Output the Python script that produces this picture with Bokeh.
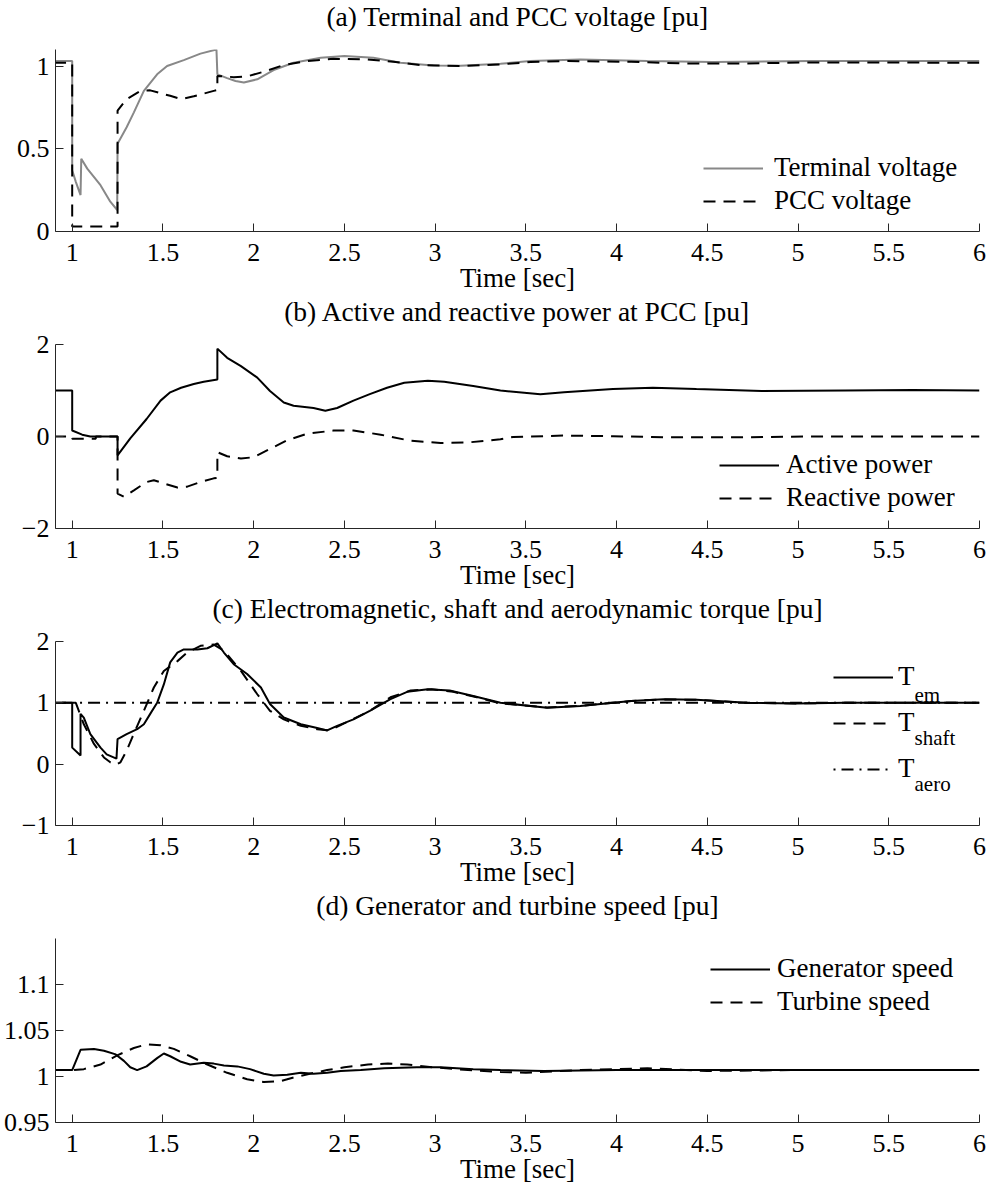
from bokeh.plotting import figure
from bokeh.layouts import column
from bokeh.models import Range1d, FixedTicker, Legend, LegendItem, Label, Title
from bokeh.embed import file_html
from bokeh.resources import INLINE

# ---------------- data ----------------
x_ticks = [1, 1.5, 2, 2.5, 3, 3.5, 4, 4.5, 5, 5.5, 6]
x_tick_labels = ["1", "1.5", "2", "2.5", "3", "3.5", "4", "4.5", "5", "5.5", "6"]

# (a) Terminal and PCC voltage
t_term = [0.9, 1.0, 1.0, 1.02, 1.046, 1.05, 1.083, 1.156, 1.21, 1.248, 1.25, 1.30, 1.34, 1.395,
          1.468, 1.523, 1.615, 1.707, 1.795, 1.8, 1.854, 1.90, 1.946, 2.02, 2.11, 2.22, 2.37,
          2.5, 2.66, 2.81, 2.99, 3.14, 3.36, 3.525, 3.80, 4.17, 4.53, 5.08, 6.0]
v_term = [1.03, 1.03, 0.37, 0.30, 0.22, 0.44, 0.38, 0.28, 0.18, 0.13, 0.53, 0.63, 0.72, 0.85,
          0.95, 1.0, 1.036, 1.075, 1.10, 0.95, 0.927, 0.91, 0.90, 0.92, 0.976, 1.02, 1.05,
          1.06, 1.05, 1.02, 1.004, 1.002, 1.014, 1.03, 1.04, 1.03, 1.024, 1.03, 1.03]
t_pcc = [0.9, 1.0, 1.0, 1.25, 1.25, 1.30, 1.377, 1.43, 1.54, 1.60, 1.67, 1.78, 1.8, 1.8, 1.89,
         1.96, 2.056, 2.166, 2.295, 2.44, 2.625, 2.77, 2.92, 3.14, 3.36, 3.525, 3.71, 4.08,
         4.35, 4.72, 5.08, 6.0]
v_pcc = [1.02, 1.02, 0.03, 0.03, 0.73, 0.80, 0.85, 0.853, 0.82, 0.80, 0.817, 0.85, 0.855, 0.94,
         0.933, 0.936, 0.966, 1.006, 1.03, 1.044, 1.04, 1.026, 1.006, 1.0, 1.01, 1.024, 1.03,
         1.026, 1.016, 1.016, 1.022, 1.02]

# (b) Active and reactive power at PCC
t_p = [0.9, 1.0, 1.0, 1.055, 1.1, 1.25, 1.25, 1.32, 1.41, 1.487, 1.54, 1.60, 1.67, 1.725, 1.8,
       1.8, 1.854, 1.93, 2.02, 2.09, 2.166, 2.22, 2.33, 2.395, 2.46, 2.55, 2.64, 2.735, 2.83,
       2.96, 3.05, 3.21, 3.36, 3.58, 3.71, 3.98, 4.20, 4.44, 4.80, 5.26, 5.63, 6.0]
v_p = [1.0, 1.0, 0.13, 0.04, 0.0, 0.0, -0.41, -0.04, 0.38, 0.78, 0.96, 1.06, 1.14, 1.19, 1.24,
       1.91, 1.71, 1.53, 1.28, 0.99, 0.74, 0.67, 0.62, 0.56, 0.62, 0.78, 0.92, 1.06, 1.17,
       1.21, 1.19, 1.10, 1.0, 0.92, 0.96, 1.03, 1.06, 1.03, 0.99, 1.0, 1.01, 1.0]
t_q = [0.9, 1.0, 1.0, 1.13, 1.13, 1.25, 1.25, 1.285, 1.34, 1.41, 1.45, 1.505, 1.58, 1.634,
       1.707, 1.78, 1.8, 1.8, 1.854, 1.93, 2.0, 2.09, 2.18, 2.295, 2.44, 2.55, 2.70, 2.86,
       3.03, 3.18, 3.36, 3.43, 3.71, 3.98, 4.26, 4.72, 5.08, 6.0]
v_q = [0.0, 0.0, -0.05, -0.05, 0.0, 0.0, -1.24, -1.31, -1.17, -0.99, -0.95, -1.02, -1.11, -1.09,
       -0.99, -0.91, -0.90, -0.34, -0.43, -0.48, -0.45, -0.27, -0.09, 0.06, 0.13, 0.13, 0.04,
       -0.09, -0.14, -0.13, -0.06, -0.01, 0.02, 0.007, -0.015, -0.015, 0.0, 0.0]

# (c) Electromagnetic, shaft and aerodynamic torque
t_em = [0.9, 1.0, 1.0, 1.046, 1.046, 1.064, 1.10, 1.156, 1.19, 1.244, 1.25, 1.30, 1.358, 1.395,
        1.43, 1.468, 1.505, 1.54, 1.58, 1.615, 1.69, 1.745, 1.80, 1.836, 1.89, 1.964, 2.04,
        2.09, 2.166, 2.26, 2.35, 2.405, 2.46, 2.55, 2.64, 2.754, 2.846, 2.96, 3.08, 3.21,
        3.36, 3.617, 3.80, 4.08, 4.26, 4.44, 4.72, 4.99, 5.26, 6.0]
v_em = [1.0, 1.0, 0.27, 0.14, 0.82, 0.76, 0.49, 0.27, 0.16, 0.09, 0.41, 0.49, 0.57, 0.65,
        0.82, 1.0, 1.30, 1.66, 1.82, 1.87, 1.87, 1.89, 1.97, 1.82, 1.63, 1.47, 1.25, 0.98,
        0.76, 0.65, 0.59, 0.55, 0.625, 0.73, 0.87, 1.06, 1.18, 1.22, 1.20, 1.11, 1.0, 0.92,
        0.95, 1.03, 1.06, 1.05, 1.0, 0.99, 1.0, 1.0]
t_sh = [0.9, 1.02, 1.064, 1.12, 1.175, 1.21, 1.24, 1.266, 1.30, 1.33, 1.395, 1.45, 1.505, 1.58,
        1.634, 1.707, 1.78, 1.836, 1.93, 2.02, 2.09, 2.166, 2.26, 2.35, 2.42, 2.51, 2.64,
        2.754, 2.865, 2.98, 3.10, 3.23, 3.36, 3.617, 3.80, 4.08, 4.26, 4.44, 4.72, 4.99,
        5.26, 6.0]
v_sh = [1.0, 1.0, 0.65, 0.33, 0.11, 0.03, -0.01, 0.03, 0.22, 0.43, 0.87, 1.25, 1.52, 1.68,
        1.82, 1.93, 1.95, 1.85, 1.52, 1.14, 0.87, 0.73, 0.625, 0.57, 0.55, 0.68, 0.87, 1.09,
        1.20, 1.22, 1.18, 1.09, 0.99, 0.925, 0.95, 1.03, 1.055, 1.05, 1.0, 0.99, 1.0, 1.0]
t_aero = [0.9, 6.0]
v_aero = [1.0, 1.0]

# (d) Generator and turbine speed
t_gen = [0.9, 1.0, 1.046, 1.12, 1.175, 1.24, 1.285, 1.32, 1.358, 1.41, 1.468, 1.505, 1.54, 1.60,
         1.65, 1.725, 1.78, 1.836, 1.91, 1.98, 2.056, 2.11, 2.185, 2.26, 2.33, 2.405, 2.48,
         2.59, 2.72, 2.90, 3.03, 3.21, 3.36, 3.6, 4.0, 6.0]
v_gen = [1.007, 1.007, 1.029, 1.030, 1.028, 1.024, 1.017, 1.010, 1.007, 1.011, 1.020, 1.025,
         1.022, 1.016, 1.013, 1.015, 1.014, 1.012, 1.011, 1.008, 1.003, 1.001, 1.002, 1.004,
         1.003, 1.004, 1.006, 1.007, 1.009, 1.010, 1.010, 1.008, 1.007, 1.006, 1.007, 1.007]
t_tur = [0.9, 1.0, 1.064, 1.156, 1.248, 1.34, 1.41, 1.487, 1.56, 1.65, 1.745, 1.854, 1.964,
         2.056, 2.148, 2.22, 2.31, 2.405, 2.50, 2.63, 2.74, 2.846, 2.99, 3.18, 3.36, 3.5, 3.8,
         4.17, 4.5, 5.0, 6.0]
v_tur = [1.007, 1.007, 1.008, 1.013, 1.023, 1.031, 1.035, 1.034, 1.030, 1.022, 1.013, 1.004,
         0.997, 0.994, 0.995, 0.999, 1.003, 1.007, 1.010, 1.013, 1.014, 1.013, 1.010, 1.007,
         1.005, 1.004, 1.007, 1.009, 1.006, 1.007, 1.007]

# ---------------- styling ----------------
FONT = "Liberation Serif"
AXC = "#262626"
W = 994
BL, BR = 55, 15
DASH = "12 8"
DASHDOT = "2 6 12 6"


def make_fig(title, height, yr, yticks, ylabels, top, bottom):
    p = figure(width=W, height=height, output_backend="svg", toolbar_location=None,
               x_range=Range1d(0.908, 6.0), y_range=Range1d(*yr),
               min_border_left=BL, min_border_right=BR,
               min_border_top=top, min_border_bottom=bottom)
    # thin empty band between the frame and the title
    p.add_layout(Title(text=" ", text_font_size="12px", standoff=0), "above")
    p.title.text = title
    p.title.align = "center"
    p.title.vertical_align = "top"
    p.title.standoff = 0
    p.title.text_font = FONT
    p.title.text_font_size = "27.5px"
    p.title.text_font_style = "normal"
    p.title.text_color = "black"
    p.grid.visible = False
    p.outline_line_color = None
    p.background_fill_color = "white"
    p.border_fill_color = "white"
    p.xaxis.ticker = FixedTicker(ticks=x_ticks)
    p.xaxis.major_label_overrides = {float(k): v for k, v in zip(x_ticks, x_tick_labels)}
    p.yaxis.ticker = FixedTicker(ticks=yticks)
    p.yaxis.major_label_overrides = {float(k): v for k, v in zip(yticks, ylabels)}
    p.xaxis.axis_label = "Time [sec]"
    p.xaxis.axis_label_text_font = FONT
    p.xaxis.axis_label_text_font_size = "27px"
    p.xaxis.axis_label_text_font_style = "normal"
    p.xaxis.axis_label_text_color = "black"
    p.xaxis.axis_label_standoff = -1
    p.xaxis.major_label_standoff = 12
    p.yaxis.major_label_standoff = 6
    for ax in (p.xaxis[0], p.yaxis[0]):
        ax.major_tick_in = 8
        ax.major_tick_out = 0
        ax.minor_tick_in = 0
        ax.minor_tick_out = 0
        ax.axis_line_color = AXC
        ax.major_tick_line_color = AXC
        ax.major_label_text_font = FONT
        ax.major_label_text_font_size = "26px"
        ax.major_label_text_color = "black"
    return p


def make_legend(items, loc, spacing, standoff):
    return Legend(items=items, location=loc, label_text_font=FONT,
                  label_text_font_size="27px", label_text_color="black",
                  glyph_width=60, glyph_height=20, label_standoff=standoff,
                  spacing=spacing, padding=0, margin=0, border_line_color=None,
                  background_fill_alpha=0)


# (a)
pa = make_fig("(a) Terminal and PCC voltage [pu]", 295, (0, 1.1), [0, 0.5, 1],
              ["0", "0.5", "1"], 47, 64)
ra1 = pa.line(t_term, v_term, line_color="#888888", line_width=2)
ra2 = pa.line(t_pcc, v_pcc, line_color="black", line_width=2, line_dash=DASH)
pa.add_layout(make_legend([LegendItem(label="Terminal voltage", renderers=[ra1]),
                           LegendItem(label="PCC voltage", renderers=[ra2])],
                          (648, 15), 2, 11))

# (b)
pb = make_fig("(b) Active and reactive power at PCC [pu]", 297, (-2, 2), [-2, 0, 2],
              ["\u22122", "0", "2"], 48, 64)
rb1 = pb.line(t_p, v_p, line_color="black", line_width=2)
rb2 = pb.line(t_q, v_q, line_color="black", line_width=2, line_dash=DASH)
pb.add_layout(make_legend([LegendItem(label="Active power", renderers=[rb1]),
                           LegendItem(label="Reactive power", renderers=[rb2])],
                          (664, 15), 2, 7))

# (c)
pc = make_fig("(c) Electromagnetic, shaft and aerodynamic torque [pu]", 297, (-1, 2),
              [-1, 0, 1, 2], ["\u22121", "0", "1", "2"], 49, 64)
rc3 = pc.line(t_aero, v_aero, line_color="black", line_width=2, line_dash=DASHDOT)
rc2 = pc.line(t_sh, v_sh, line_color="black", line_width=2, line_dash=DASH)
rc1 = pc.line(t_em, v_em, line_color="black", line_width=2)
pc.add_layout(make_legend([LegendItem(label="T", renderers=[rc1]),
                           LegendItem(label="T", renderers=[rc2]),
                           LegendItem(label="T", renderers=[rc3])],
                          (778, 41), 15, 5))
for sub, yb in (("em", 131), ("shaft", 88), ("aero", 42)):
    pc.add_layout(Label(x=859, y=yb, x_units="screen", y_units="screen", text=sub,
                        text_font=FONT, text_font_size="21px", text_color="black",
                        text_baseline="alphabetic", text_align="left"))

# (d)
pd_ = make_fig("(d) Generator and turbine speed [pu]", 299, (0.95, 1.15),
               [0.95, 1.0, 1.05, 1.1], ["0.95", "1", "1.05", "1.1"], 49, 66)
rd1 = pd_.line(t_gen, v_gen, line_color="black", line_width=2)
rd2 = pd_.line(t_tur, v_tur, line_color="black", line_width=2, line_dash=DASH)
pd_.add_layout(make_legend([LegendItem(label="Generator speed", renderers=[rd1]),
                            LegendItem(label="Turbine speed", renderers=[rd2])],
                           (655, 105), 2, 7))

layout = column(pa, pb, pc, pd_, spacing=0)
open("out.html", "w").write(file_html(layout, INLINE))
